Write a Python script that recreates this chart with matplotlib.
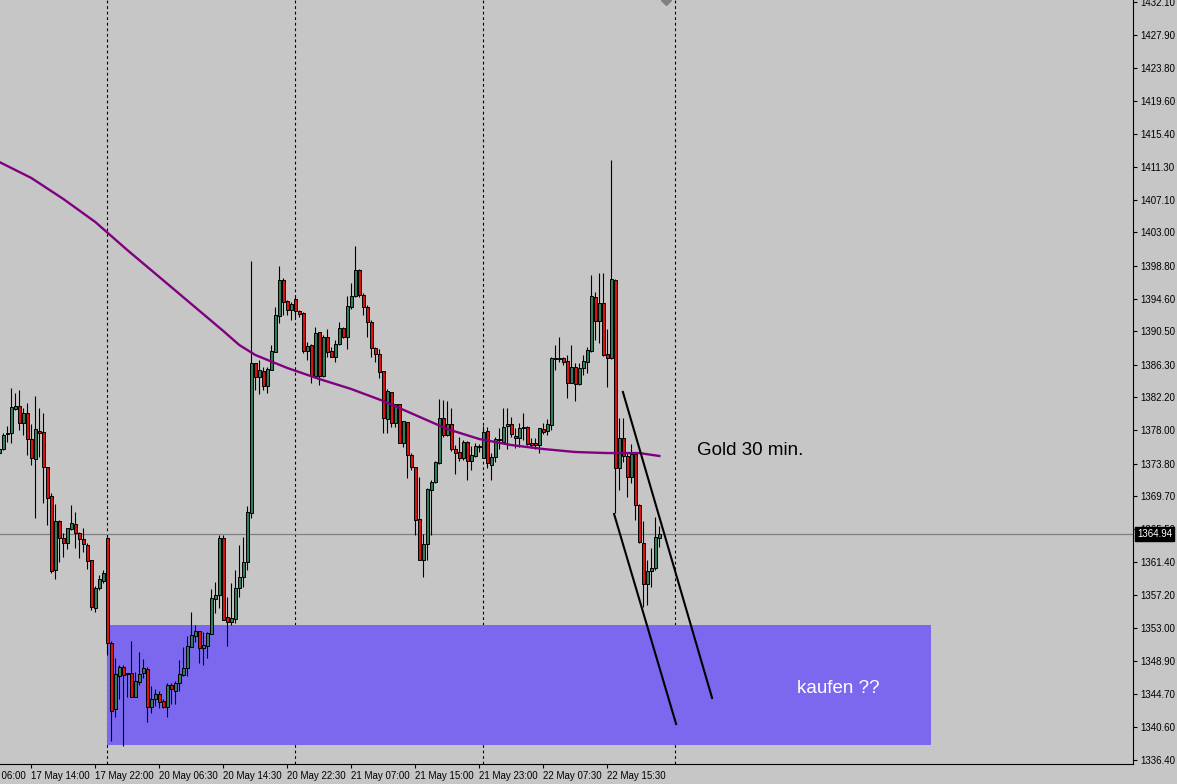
import numpy as np
import matplotlib
matplotlib.use("Agg")
import matplotlib.pyplot as plt
import matplotlib.transforms as mtransforms
from matplotlib.patches import Rectangle

plt.rcParams['font.family'] = ['Liberation Sans', 'DejaVu Sans']

# XAUUSD 30 min candles (bar 0 is the partial one at the left edge)
opens = [
    1375.15, 1375.66, 1377.55, 1377.68, 1380.71, 1381.09, 1378.94, 1380.20, 1376.92, 1374.40,
    1377.93, 1377.81, 1373.39, 1369.73, 1360.38, 1366.57, 1364.42, 1363.79, 1365.56, 1366.19,
    1365.05, 1364.30, 1363.54, 1361.64, 1355.58, 1358.11, 1358.99, 1364.42, 1351.16, 1342.83,
    1347.00, 1348.14, 1347.38, 1347.38, 1344.35, 1346.24, 1347.38, 1347.88, 1343.08, 1344.09,
    1344.73, 1343.84, 1343.08, 1345.86, 1345.10, 1346.11, 1347.12, 1348.01, 1350.66, 1352.05,
    1352.68, 1350.53, 1350.79, 1352.30, 1356.72, 1357.23, 1364.42, 1354.45, 1353.82, 1354.19,
    1358.11, 1359.50, 1361.39, 1367.58, 1386.52, 1384.75, 1385.51, 1383.61, 1385.63, 1387.91,
    1392.45, 1397.00, 1394.35, 1393.21, 1394.60, 1393.08, 1392.83, 1388.03, 1388.79, 1384.88,
    1390.43, 1384.88, 1389.80, 1388.03, 1387.27, 1388.92, 1390.94, 1389.80, 1393.59, 1394.98,
    1398.26, 1395.10, 1393.59, 1391.69, 1388.41, 1387.65, 1385.51, 1379.45, 1382.86, 1378.94,
    1381.34, 1376.42, 1379.07, 1374.90, 1373.39, 1366.82, 1361.64, 1363.66, 1370.48, 1371.49,
    1373.89, 1379.57, 1377.43, 1378.82, 1375.66, 1375.28, 1374.52, 1376.54, 1374.14, 1374.78,
    1375.91, 1374.52, 1377.93, 1373.64, 1374.65, 1376.80, 1376.54, 1378.56, 1378.82, 1377.30,
    1377.05, 1378.44, 1378.44, 1376.42, 1376.42, 1376.16, 1378.18, 1377.93, 1378.69, 1387.02,
    1387.02, 1387.15, 1386.77, 1383.99, 1386.01, 1383.87, 1385.89, 1386.64, 1388.03, 1394.85,
    1391.82, 1394.09, 1387.65, 1387.15, 1397.00, 1373.26, 1377.05, 1374.78, 1372.12, 1375.03,
    1368.59, 1363.79, 1358.61, 1360.26, 1360.63, 1364.42,
]
highs = [
    1375.91, 1377.68, 1378.56, 1383.36, 1382.73, 1383.11, 1380.84, 1381.47, 1378.82, 1382.35,
    1380.84, 1380.20, 1373.39, 1370.10, 1368.71, 1366.69, 1365.05, 1365.68, 1368.59, 1367.70,
    1365.18, 1365.68, 1363.79, 1361.64, 1358.36, 1359.75, 1360.38, 1364.80, 1351.42, 1349.27,
    1348.39, 1348.39, 1347.38, 1351.42, 1347.50, 1350.03, 1349.14, 1348.14, 1345.74, 1345.36,
    1345.10, 1344.09, 1346.11, 1346.11, 1346.37, 1349.02, 1350.66, 1352.05, 1355.08, 1353.44,
    1352.68, 1352.55, 1352.55, 1357.98, 1358.87, 1364.80, 1364.80, 1356.97, 1358.74, 1360.38,
    1363.54, 1364.55, 1368.46, 1399.40, 1386.52, 1386.90, 1386.01, 1386.01, 1388.79, 1393.59,
    1398.76, 1397.25, 1394.47, 1394.22, 1394.85, 1393.21, 1392.96, 1389.17, 1388.92, 1391.06,
    1390.43, 1390.05, 1390.81, 1388.54, 1389.42, 1391.69, 1391.06, 1394.98, 1396.62, 1401.29,
    1398.39, 1395.36, 1393.84, 1391.95, 1388.54, 1388.29, 1385.51, 1383.23, 1382.86, 1381.34,
    1381.34, 1379.19, 1379.07, 1375.15, 1373.39, 1372.12, 1364.93, 1370.74, 1371.75, 1374.14,
    1381.97, 1381.85, 1381.72, 1380.84, 1376.16, 1377.17, 1376.80, 1376.67, 1376.04, 1376.42,
    1376.29, 1378.56, 1378.44, 1375.15, 1377.17, 1378.31, 1380.84, 1380.84, 1379.70, 1378.31,
    1378.94, 1380.20, 1378.56, 1377.05, 1377.05, 1378.31, 1378.94, 1379.45, 1387.27, 1388.79,
    1389.80, 1387.27, 1387.53, 1388.79, 1386.52, 1386.52, 1387.53, 1388.54, 1397.63, 1395.48,
    1397.88, 1397.88, 1390.81, 1412.15, 1397.12, 1379.57, 1379.57, 1375.15, 1376.29, 1375.15,
    1368.71, 1366.57, 1361.64, 1363.16, 1367.07, 1365.94,
]
lows = [
    1374.90, 1375.53, 1376.54, 1376.42, 1380.58, 1378.06, 1377.43, 1374.90, 1373.64, 1366.95,
    1374.65, 1368.84, 1366.06, 1360.00, 1359.25, 1361.39, 1362.02, 1363.03, 1365.43, 1363.16,
    1361.90, 1362.65, 1360.51, 1355.33, 1355.08, 1357.86, 1358.74, 1349.65, 1338.79, 1341.82,
    1344.09, 1338.16, 1344.35, 1344.35, 1344.35, 1345.86, 1346.75, 1341.19, 1342.33, 1343.21,
    1342.96, 1342.96, 1341.82, 1343.46, 1343.46, 1345.10, 1347.00, 1347.00, 1350.66, 1351.29,
    1348.64, 1348.39, 1349.27, 1352.30, 1354.95, 1355.58, 1354.07, 1350.79, 1353.44, 1353.69,
    1356.97, 1358.24, 1360.38, 1366.95, 1383.11, 1382.60, 1383.11, 1382.73, 1385.63, 1387.91,
    1391.57, 1392.58, 1392.58, 1391.95, 1392.33, 1392.33, 1387.78, 1386.90, 1383.99, 1384.75,
    1383.74, 1384.75, 1387.27, 1387.27, 1386.64, 1388.79, 1389.67, 1388.29, 1393.34, 1394.85,
    1394.85, 1392.58, 1389.80, 1387.27, 1386.64, 1384.62, 1377.68, 1377.68, 1378.44, 1378.44,
    1376.42, 1375.91, 1372.00, 1373.01, 1364.80, 1361.64, 1359.50, 1361.64, 1364.80, 1371.37,
    1373.77, 1377.17, 1377.30, 1375.41, 1372.50, 1374.14, 1374.27, 1371.75, 1373.01, 1374.65,
    1375.28, 1374.52, 1373.26, 1371.75, 1374.02, 1375.66, 1376.54, 1375.66, 1377.17, 1375.79,
    1375.91, 1376.80, 1376.16, 1375.79, 1375.66, 1375.15, 1377.55, 1377.43, 1378.06, 1385.63,
    1386.64, 1386.27, 1382.10, 1383.99, 1381.72, 1383.74, 1385.00, 1385.26, 1387.91, 1389.42,
    1389.04, 1387.40, 1383.49, 1387.02, 1367.58, 1370.48, 1374.02, 1369.60, 1371.37, 1366.69,
    1363.79, 1355.71, 1355.96, 1358.24, 1360.38, 1363.29,
]
closes = [
    1375.66, 1377.43, 1377.68, 1380.96, 1381.09, 1378.94, 1380.20, 1376.92, 1374.52, 1378.18,
    1377.68, 1373.39, 1369.47, 1360.26, 1366.57, 1364.42, 1363.79, 1365.68, 1366.32, 1365.05,
    1364.30, 1363.66, 1361.52, 1355.71, 1358.11, 1359.25, 1360.00, 1351.16, 1342.58, 1347.25,
    1348.14, 1347.12, 1347.25, 1344.35, 1346.37, 1347.25, 1348.01, 1343.08, 1344.09, 1344.73,
    1343.72, 1343.08, 1345.86, 1345.36, 1346.11, 1347.25, 1348.01, 1350.79, 1352.17, 1352.68,
    1350.53, 1350.91, 1352.43, 1356.85, 1357.23, 1364.42, 1354.07, 1353.82, 1354.32, 1358.11,
    1359.50, 1361.39, 1367.70, 1386.52, 1384.75, 1385.63, 1383.61, 1385.76, 1388.03, 1392.58,
    1397.00, 1394.22, 1393.21, 1393.97, 1393.08, 1392.70, 1388.03, 1388.66, 1384.88, 1390.31,
    1384.88, 1389.80, 1387.91, 1387.27, 1388.92, 1390.94, 1389.80, 1393.71, 1394.98, 1398.26,
    1395.10, 1393.59, 1391.69, 1388.41, 1387.65, 1385.38, 1379.57, 1382.98, 1378.94, 1381.34,
    1376.42, 1379.19, 1374.90, 1373.39, 1366.69, 1361.64, 1363.66, 1370.61, 1371.49, 1374.02,
    1379.57, 1377.43, 1378.82, 1375.66, 1375.15, 1374.52, 1376.54, 1374.14, 1374.90, 1376.04,
    1376.04, 1377.81, 1373.89, 1374.65, 1376.92, 1376.92, 1378.44, 1378.82, 1377.55, 1377.05,
    1378.31, 1378.31, 1376.29, 1376.16, 1376.16, 1378.31, 1377.81, 1378.82, 1387.15, 1387.15,
    1387.15, 1386.64, 1383.99, 1386.01, 1383.87, 1385.89, 1386.77, 1388.16, 1394.98, 1391.82,
    1394.09, 1387.53, 1387.15, 1397.12, 1373.26, 1377.05, 1374.78, 1372.12, 1375.03, 1368.59,
    1363.92, 1358.61, 1360.26, 1360.63, 1364.55, 1364.94,
]

# moving average (purple), sampled along the line
ma_bars = [0, 8, 16, 24, 32, 40, 48, 56, 60, 64, 72, 80, 88, 96, 104, 112, 120, 128, 136, 144, 152, 160, 165]
ma_values = [1411.90, 1409.88, 1407.23, 1404.32, 1400.78, 1397.38, 1393.97, 1390.56, 1388.79, 1387.53,
             1385.89, 1384.50, 1383.23, 1381.72, 1379.95, 1378.18, 1376.92, 1376.16, 1375.66, 1375.28,
             1375.15, 1375.15, 1374.78]

time_labels = ["17 May 06:00", "17 May 14:00", "17 May 22:00", "20 May 06:30", "20 May 14:30",
               "20 May 22:30", "21 May 07:00", "21 May 15:00", "21 May 23:00", "22 May 07:30",
               "22 May 15:30"]
day_starts = [27, 74, 121, 169]
price_ticks = [1432.10, 1427.90, 1423.80, 1419.60, 1415.40, 1411.30, 1407.10, 1403.00, 1398.80,
               1394.60, 1390.50, 1386.30, 1382.20, 1378.00, 1373.80, 1369.70, 1365.50, 1361.40,
               1357.20, 1353.00, 1348.90, 1344.70, 1340.60, 1336.40]
last_price = 1364.94

# drawn objects
zone_bars = [27, 233]
zone_prices = [1338.29, 1353.44]
trend_a_bars, trend_a_prices = [155.9, 178.2], [1382.86, 1344.22]
trend_b_bars, trend_b_prices = [153.7, 169.2], [1367.45, 1340.94]

bg = '#c6c6c6'
bull = '#2f7d5b'
bear = '#e01010'

fig = plt.figure(figsize=(11.77, 7.84), dpi=100, facecolor=bg)
ax = fig.add_axes([0, 20 / 784, 1133 / 1177, 764 / 784])
ax.set_facecolor(bg)

o = np.array(opens)
h = np.array(highs)
l = np.array(lows)
c = np.array(closes)
n = np.arange(len(o))

# period separators
for d in day_starts:
    ax.axvline(d, color='black', lw=0.8, ls=(0, (2.5, 2.5)), zorder=0.5)

ax.add_patch(Rectangle((zone_bars[0], zone_prices[0]), zone_bars[1] - zone_bars[0],
                       zone_prices[1] - zone_prices[0], facecolor='#7b68ee', edgecolor='none', zorder=1))

ax.axhline(last_price, color='#808080', lw=0.9, zorder=2)

ax.vlines(n, l, h, color='black', lw=0.8, zorder=3)
body_lo = np.minimum(o, c)
body_h = np.maximum(np.abs(c - o), 0.12)
ax.bar(n, body_h, bottom=body_lo, width=0.62, color=np.where(c >= o, bull, bear),
       edgecolor='black', linewidth=0.7, zorder=4)

ax.plot(ma_bars, ma_values, color='#800080', lw=1.7, zorder=5)

ax.plot(trend_a_bars, trend_a_prices, color='black', lw=1.5, zorder=6)
ax.plot(trend_b_bars, trend_b_prices, color='black', lw=1.5, zorder=6)

ax.plot(166.7, 1432.35, marker='D', ms=5, color='#808080', zorder=6)

ax.text(174.4, 1375.41, 'Gold 30 min.', fontsize=13.5, ha='left', va='center', color='black')
ax.text(199.4, 1345.36, 'kaufen ??', fontsize=13.5, ha='left', va='center', color='white')

ax.set_xlim(0.175, 283.425)
ax.set_ylim(1335.89, 1432.35)

for s in ['left', 'top']:
    ax.spines[s].set_visible(False)
ax.spines['right'].set_color('black')
ax.spines['bottom'].set_color('black')

# price axis on the right
ax.yaxis.tick_right()
ax.set_yticks(price_ticks)
ax.set_yticklabels([f'{p:.2f}' for p in price_ticks])
ax.tick_params(axis='y', direction='out', length=3, width=0.8, labelsize=7, pad=2, colors='black')

# time axis, every 16 bars, labels start at the tick
tick_pos = np.arange(-8, -8 + 16 * len(time_labels), 16)
ax.set_xticks(tick_pos[1:])
ax.set_xticklabels(time_labels[1:], ha='left')
ax.tick_params(axis='x', direction='out', length=3, width=0.8, labelsize=7, pad=2, colors='black')
lbl_trans = mtransforms.offset_copy(mtransforms.blended_transform_factory(ax.transData, ax.transAxes),
                                    fig=fig, y=-5, units='points')
ax.text(tick_pos[0], 0, time_labels[0], transform=lbl_trans, ha='left', va='top', fontsize=7, clip_on=False)

# current price box
box_trans = mtransforms.offset_copy(mtransforms.blended_transform_factory(ax.transAxes, ax.transData),
                                    fig=fig, x=3, units='points')
ax.text(1.0, last_price, f'{last_price:.2f}', transform=box_trans, ha='left', va='center',
        fontsize=7, color='white', clip_on=False, zorder=10,
        bbox=dict(boxstyle='square,pad=0.2', fc='black', ec='black'))

fig.savefig('out.png', dpi=100, facecolor=bg)
